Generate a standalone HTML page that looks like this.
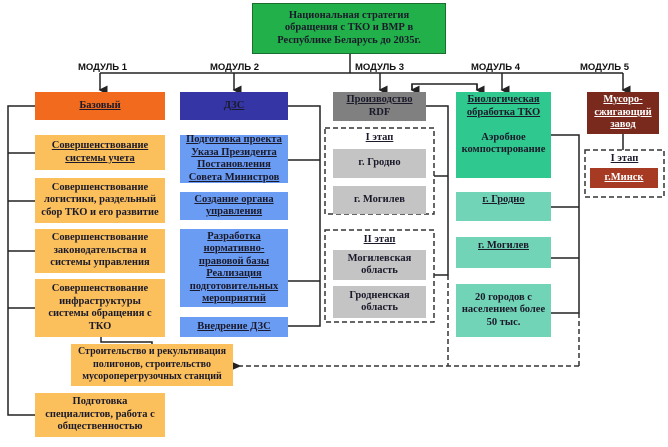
<!DOCTYPE html>
<html><head><meta charset="utf-8"><style>
body{margin:0;width:668px;height:447px;background:#fff;position:relative;overflow:hidden;font-family:"Liberation Serif","Noto Serif CJK SC",serif;}
.b{position:absolute;display:flex;align-items:center;justify-content:center;text-align:center;font-weight:bold;font-size:10.5px;line-height:12.5px;color:#1a1a2a;box-sizing:border-box;}
.u{text-decoration:underline;}
.or{background:#fbbf5c;}
.bl{background:#6b9cf4;}
.gr{background:#c4c4c4;}
.tl{background:#72d4b6;}
.m{position:absolute;font-family:"Liberation Sans",sans-serif;font-weight:bold;font-size:9.5px;color:#111;}
svg{position:absolute;left:0;top:0;}
</style></head><body>
<svg width="668" height="447">
<defs><marker id="a" markerWidth="6" markerHeight="6" refX="3" refY="5" orient="auto"><path d="M0,0 L6,0 L3,6z" fill="#222"/></marker>
<marker id="al" markerWidth="7" markerHeight="6" refX="1" refY="3" orient="auto"><path d="M7,0 L7,6 L0,3z" fill="#222"/></marker></defs>
<g stroke="#222" stroke-width="1.5" fill="none">
<line x1="350" y1="54" x2="350" y2="73"/>
<line x1="100" y1="73" x2="623" y2="73"/>
<line x1="100" y1="73" x2="100" y2="90" marker-end="url(#a)"/>
<line x1="234" y1="73" x2="234" y2="90" marker-end="url(#a)"/>
<line x1="380" y1="73" x2="380" y2="90" marker-end="url(#a)"/>
<line x1="502" y1="73" x2="502" y2="90" marker-end="url(#a)"/>
<line x1="623" y1="73" x2="623" y2="90" marker-end="url(#a)"/>
<polyline points="412,90 412,84 477,84 477,90"/>
<line x1="412" y1="84" x2="412" y2="90" marker-end="url(#a)"/>
<line x1="477" y1="84" x2="477" y2="90" marker-end="url(#a)"/>
<polyline points="35,106 8,106 8,415 35,415"/>
<line x1="8" y1="153" x2="35" y2="153"/>
<line x1="8" y1="201" x2="35" y2="201"/>
<line x1="8" y1="251" x2="35" y2="251"/>
<line x1="8" y1="308" x2="35" y2="308"/>
<polyline points="101,337 101,342 152,342 152,344"/>
<polyline points="288,106 320,106 320,326 288,326"/>
<line x1="288" y1="160" x2="320" y2="160"/>
<line x1="288" y1="281" x2="320" y2="281"/>
<polyline points="426,106 448,106 448,275 434,275"/>
<line x1="434" y1="176" x2="448" y2="176"/>
<polyline points="551,135 579,135 579,313 551,313"/>
<line x1="551" y1="207" x2="579" y2="207"/>
<line x1="551" y1="258" x2="579" y2="258"/>
<line x1="623" y1="134" x2="623" y2="150"/>
</g>
<g stroke="#333" stroke-width="1.5" fill="none" stroke-dasharray="5,3">
<rect x="325" y="128" width="109" height="86"/>
<rect x="325" y="230" width="109" height="92"/>
<rect x="585" y="150" width="79" height="47"/>
<line x1="448" y1="275" x2="448" y2="366"/>
<line x1="579" y1="313" x2="579" y2="366"/>
<line x1="579" y1="366" x2="240" y2="366" marker-end="url(#al)"/>
</g>
</svg>
<div class="b" style="left:252px;top:3px;width:194px;height:51px;background:#22b04a;border:1px solid #1a6e2e;">Национальная стратегия<br>обращения с ТКО и ВМР в<br>Республике Беларусь до 2035г.</div>
<div class="m" style="left:78px;top:62px">МОДУЛЬ 1</div>
<div class="m" style="left:210px;top:62px">МОДУЛЬ 2</div>
<div class="m" style="left:355px;top:62px">МОДУЛЬ 3</div>
<div class="m" style="left:471px;top:62px">МОДУЛЬ 4</div>
<div class="m" style="left:580px;top:62px">МОДУЛЬ 5</div>
<div class="b u" style="left:35px;top:92px;width:130px;height:28px;background:#f26a1e;">Базовый</div>
<div class="b u" style="left:180px;top:92px;width:108px;height:28px;background:#3535a5;">ДЗС</div>
<div class="b" style="left:333px;top:92px;width:93px;height:29px;background:#808080;"><span><span class="u">Производство</span><br>RDF</span></div>
<div class="b" style="left:456px;top:92px;width:95px;height:86px;background:#2fc88e;align-items:flex-start;padding-top:2px;"><span><span class="u">Биологическая<br>обработка ТКО</span><br><br>Аэробное<br>компостирование</span></div>
<div class="b u" style="left:587px;top:92px;width:72px;height:42px;background:#7a2a1c;color:#fff;">Мусоро-<br>сжигающий<br>завод</div>
<div class="b or u" style="left:35px;top:135px;width:130px;height:35px;">Совершенствование<br>системы учета</div>
<div class="b or" style="left:35px;top:178px;width:130px;height:45px;">Совершенствование<br>логистики, раздельный<br>сбор ТКО и его развитие</div>
<div class="b or" style="left:35px;top:229px;width:130px;height:44px;">Совершенствование<br>законодательства и<br>системы управления</div>
<div class="b or" style="left:35px;top:279px;width:130px;height:58px;">Совершенствование<br>инфраструктуры<br>системы обращения с<br>ТКО</div>
<div class="b or" style="left:71px;top:344px;width:162px;height:42px;font-size:10px;">Строительство и рекультивация<br>полигонов, строительство<br>мусороперегрузочных станций</div>
<div class="b or" style="left:35px;top:393px;width:130px;height:44px;">Подготовка<br>специалистов, работа с<br>общественностью</div>
<div class="b bl u" style="left:180px;top:135px;width:108px;height:48px;">Подготовка проекта<br>Указа Президента<br>Постановления<br>Совета Министров</div>
<div class="b bl u" style="left:180px;top:192px;width:108px;height:28px;">Создание органа<br>управления</div>
<div class="b bl u" style="left:180px;top:229px;width:108px;height:78px;">Разработка<br>нормативно-<br>правовой базы<br>Реализация<br>подготовительных<br>мероприятий</div>
<div class="b bl u" style="left:180px;top:317px;width:108px;height:20px;">Внедрение ДЗС</div>
<div class="b u" style="left:325px;top:131px;width:109px;height:14px;">I этап</div>
<div class="b gr" style="left:333px;top:149px;width:93px;height:29px;">г. Гродно</div>
<div class="b gr" style="left:333px;top:186px;width:93px;height:28px;">г. Могилев</div>
<div class="b u" style="left:325px;top:233px;width:109px;height:14px;">II этап</div>
<div class="b gr" style="left:333px;top:250px;width:93px;height:30px;">Могилевская<br>область</div>
<div class="b gr" style="left:333px;top:286px;width:93px;height:32px;">Гродненская<br>область</div>
<div class="b tl u" style="left:456px;top:192px;width:95px;height:29px;align-items:flex-start;padding-top:2px;">г. Гродно</div>
<div class="b tl u" style="left:456px;top:237px;width:95px;height:31px;align-items:flex-start;padding-top:3px;">г. Могилев</div>
<div class="b tl" style="left:456px;top:284px;width:95px;height:53px;">20 городов с<br>населением более<br>50 тыс.</div>
<div class="b u" style="left:585px;top:153px;width:79px;height:13px;">I этап</div>
<div class="b u" style="left:590px;top:168px;width:68px;height:20px;background:#a63a22;color:#fff;">г.Минск</div>
</body></html>
